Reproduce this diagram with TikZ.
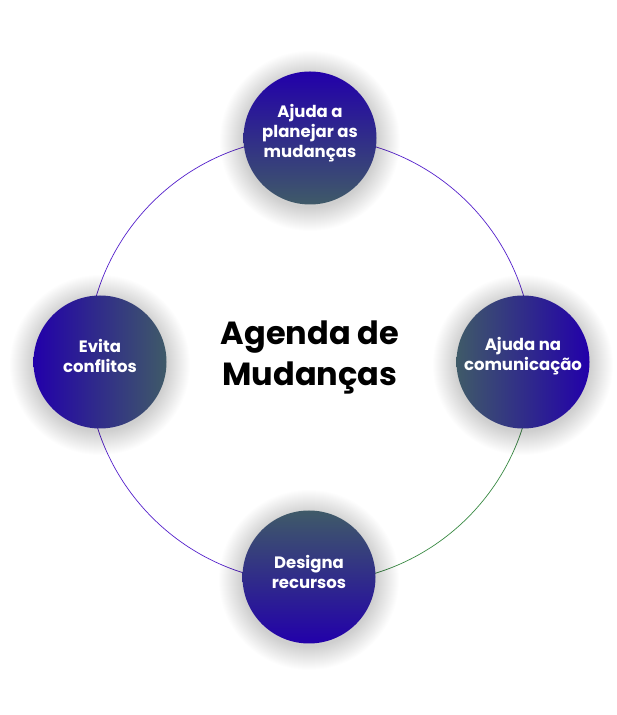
\documentclass[tikz,border=0pt]{standalone}
\usepackage{fontspec}
\setmainfont{Poppins}
\begin{document}
\begin{tikzpicture}[x=1pt,y=1pt,
  bubble/.style={circle, minimum size=133pt, inner sep=0pt},
  btext/.style={text=white, align=center, inner sep=0pt,
    font=\fontsize{16.5}{20}\selectfont\bfseries},
  pline/.style={draw=lineviolet, line width=0.7pt},
  gline/.style={draw=linegreen, line width=0.7pt},
  title/.style={align=center, font=\fontsize{32}{41}\selectfont\bfseries, text=black}]
\definecolor{cblue}{HTML}{2200AA}
\definecolor{cgray}{HTML}{3F5A68}
\definecolor{lineviolet}{HTML}{5522CC}
\definecolor{linegreen}{HTML}{3A8A44}
\useasboundingbox (0,0) rectangle (617,715);
\fill[white] (0,0) rectangle (617,715);
\coordinate (c) at (310,355);
% ring
\draw[pline] (c) ++(0:223pt) arc[start angle=0, end angle=270, radius=223pt];
\draw[gline] (c) ++(-90:223pt) arc[start angle=-90, end angle=0, radius=223pt];
% shadows
\foreach \p in {(310,574),(309,135),(100,350),(523,350)}{
  \foreach \r in {67,68,...,90}{
    \fill[black, opacity=0.0075] \p circle (\r pt);
  }
}
\node[bubble, top color=cblue, bottom color=cgray] (plan) at (310,577) {};
\node[bubble, top color=cgray, bottom color=cblue] (rec) at (309,138) {};
\node[bubble, left color=cblue, right color=cgray] (conf) at (100,353) {};
\node[bubble, left color=cgray, right color=cblue] (com) at (523,353) {};
\node[btext] (plan-t) at ([yshift=5pt]plan.center) {Ajuda a\\planejar as\\mudanças};
\node[btext] (rec-t) at ([yshift=5pt]rec.center) {Designa\\recursos};
\node[btext] (conf-t) at ([yshift=6pt]conf.center) {Evita\\conflitos};
\node[btext] (com-t) at ([yshift=6pt]com.center) {Ajuda na\\comunicação};
\node[title] (t) at (310,358) {Agenda de\\Mudanças};
\end{tikzpicture}
\end{document}
